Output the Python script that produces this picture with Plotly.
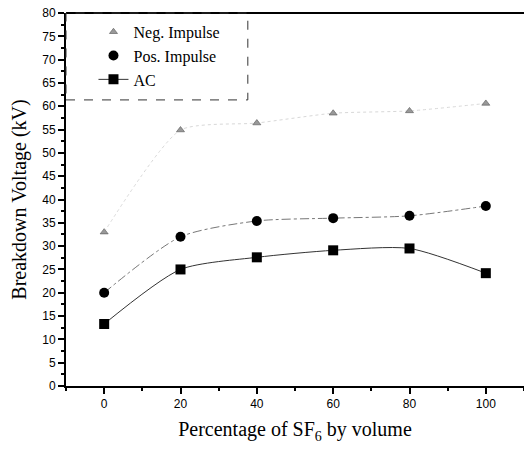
import plotly.graph_objects as go

sf6_pct = [0, 20, 40, 60, 80, 100]
neg_impulse = [33.0, 54.9, 56.4, 58.5, 59.0, 60.6]
pos_impulse = [20.0, 32.0, 35.4, 36.0, 36.5, 38.6]
ac_voltage = [13.3, 25.0, 27.6, 29.1, 29.5, 24.2]

serif = "Liberation Serif"
sans = "Liberation Sans"

fig = go.Figure()

# fitted-looking curves (no legend)
fig.add_trace(go.Scatter(x=sf6_pct, y=neg_impulse, mode="lines", line_shape="spline",
                         line=dict(color="#d8d8d8", width=1, dash="dot", smoothing=0.6),
                         showlegend=False, hoverinfo="skip"))
fig.add_trace(go.Scatter(x=sf6_pct, y=pos_impulse, mode="lines", line_shape="spline",
                         line=dict(color="#777777", width=1, dash="dashdot", smoothing=0.7),
                         showlegend=False, hoverinfo="skip"))

fig.add_trace(go.Scatter(x=sf6_pct, y=neg_impulse, mode="markers", name="Neg. Impulse",
                         marker=dict(symbol="triangle-up", size=7, color="#999999",
                                     line=dict(color="#555555", width=0.6))))
fig.add_trace(go.Scatter(x=sf6_pct, y=pos_impulse, mode="markers", name="Pos. Impulse",
                         marker=dict(symbol="circle", size=10, color="black")))
fig.add_trace(go.Scatter(x=sf6_pct, y=ac_voltage, mode="lines+markers", name="AC", line_shape="spline",
                         line=dict(color="#333333", width=1, smoothing=0.7),
                         marker=dict(symbol="square", size=10, color="black")))

fig.update_layout(
    width=524, height=452,
    margin=dict(l=66, r=0, t=13, b=66),
    plot_bgcolor="white", paper_bgcolor="white",
    showlegend=True,
    legend=dict(x=0.06, y=0.995, xanchor="left", yanchor="top",
                font=dict(family=serif, size=16, color="black"),
                bgcolor="rgba(0,0,0,0)", borderwidth=0, tracegroupgap=0),
    xaxis=dict(range=[-10, 110], tickvals=[0, 20, 40, 60, 80, 100],
               ticks="outside", ticklen=6, tickwidth=1.5, tickcolor="black",
               minor=dict(dtick=10, tick0=0, ticks="outside", ticklen=3, tickcolor="black"),
               showline=True, linecolor="black", linewidth=2, showgrid=False, zeroline=False,
               tickfont=dict(family=sans, size=12, color="black"),
               title=dict(text="Percentage of SF<sub>6</sub> by volume",
                          font=dict(family=serif, size=20, color="black"), standoff=12)),
    yaxis=dict(range=[0, 80], dtick=5, tick0=0,
               ticks="outside", ticklen=6, tickwidth=1.5, tickcolor="black",
               minor=dict(dtick=2.5, ticks="outside", ticklen=3, tickcolor="black"),
               showline=True, linecolor="black", linewidth=2, showgrid=False, zeroline=False,
               tickfont=dict(family=sans, size=12, color="black"),
               title=dict(text="Breakdown Voltage (kV)",
                          font=dict(family=serif, size=20, color="black"), standoff=10)),
    shapes=[
        dict(type="line", xref="x domain", yref="y domain", x0=0, x1=1, y0=1, y1=1,
             line=dict(color="black", width=2)),
        dict(type="rect", xref="x domain", yref="y domain", x0=0, x1=0.397, y0=0.767, y1=1,
             line=dict(color="#333333", width=1, dash="dash")),
    ],
)

fig.write_html("out.html")
